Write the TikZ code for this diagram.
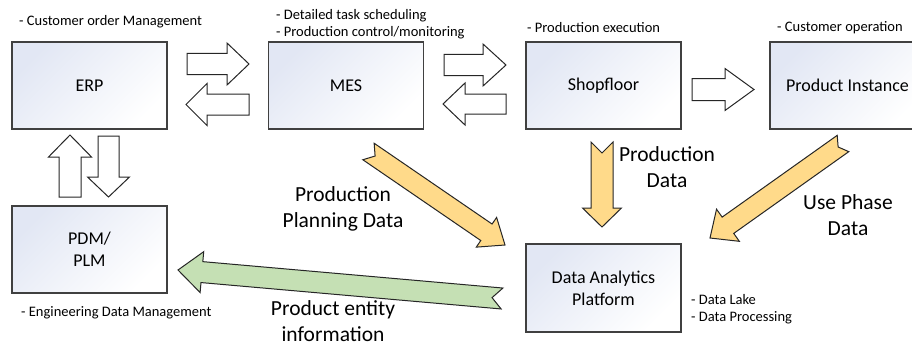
\documentclass[tikz,border=0pt]{standalone}
\usepackage{fontspec}
\setmainfont{Carlito}
\usetikzlibrary{calc}
\definecolor{boxedge}{HTML}{404040}
\definecolor{boxtint}{HTML}{E2E7F4}
\definecolor{yellowfill}{HTML}{FFDA8A}
\definecolor{greenfill}{HTML}{C5E0B4}
\tikzset{
  sysbox/.style={draw=boxedge, line width=1.1pt, minimum width=155pt, minimum height=87pt,
    inner sep=0pt, top color=boxtint, bottom color=white, shading angle=45,
    font=\fontsize{18}{22}\selectfont, align=center},
  note/.style={font=\fontsize{14.5}{17}\selectfont, align=left, anchor=west, inner sep=0pt},
  biglabel/.style={font=\fontsize{21.5}{26}\selectfont, align=center, inner sep=0pt},
  blockarr/.style={draw=black!85, line width=1pt, line join=miter, fill=white},
  yellowarr/.style={blockarr, fill=yellowfill},
  greenarr/.style={blockarr, fill=greenfill},
}
% #1 style, #2 tail, #3 tip, #4 half shaft, #5 half head, #6 head length, #7 notch depth
\newcommand\blockarrow[7][]{%
  \coordinate (#2-#3-b) at ($(#3)!#6pt!(#2)$);
  \draw[blockarr,#1]
    ($(#2)!#4pt!90:(#3)$) -- ($(#2-#3-b)!#4pt!90:(#3)$) -- ($(#2-#3-b)!#5pt!90:(#3)$)
    -- (#3) -- ($(#2-#3-b)!#5pt!-90:(#3)$) -- ($(#2-#3-b)!#4pt!-90:(#3)$)
    -- ($(#2)!#4pt!-90:(#3)$) -- ($(#2)!#7pt!(#3)$) -- cycle;}
\begin{document}
\begin{tikzpicture}[x=1pt,y=-1pt]
\fill[white] (0,0) rectangle (912,345);
\useasboundingbox (0,0) rectangle (912,345);

% boxes
\node[sysbox] (erp) at (89.5,85.5) {ERP};
\node[sysbox] (mes) at (346,85.5) {MES};
\node[sysbox] (shop) at (603.5,85.5) {Shopfloor};
\node[sysbox] (prod) at (847.5,85.5) {Product Instance};
\node[sysbox] (pdm) at (89.5,249.5) {PDM/\\PLM};
\node[sysbox, minimum height=88pt] (dap) at (603.5,288) {Data Analytics\\Platform};

% notes
\node[note] (n1) at (19,22) {- Customer order Management};
\node[note] (n2) at (276,24.5) {- Detailed task scheduling\\- Production control/monitoring};
\node[note] (n3) at (527,28) {- Production execution};
\node[note] (n4) at (777,28) {- Customer operation};
\node[note] (n5) at (21,313) {- Engineering Data Management};
\node[note] (n6) at (691,309.5) {- Data Lake\\- Data Processing};

% big labels
\node[biglabel] (l1) at (343,208.5) {Production\\Planning Data};
\node[biglabel] (l2) at (667,167.5) {Production\\Data};
\node[biglabel] (l3) at (848,215.5) {Use Phase\\Data};
\node[biglabel] (l4) at (333,321) {Product entity\\information};

% arrow end points
\coordinate (a1s) at (187,64);    \coordinate (a1e) at (249,64);
\coordinate (a2s) at (249,104.5); \coordinate (a2e) at (186,104.5);
\coordinate (a3s) at (444,65);    \coordinate (a3e) at (506,65);
\coordinate (a4s) at (506,104);   \coordinate (a4e) at (443,104);
\coordinate (a5s) at (692,89.5);  \coordinate (a5e) at (754,89.5);
\coordinate (a6s) at (70,197);    \coordinate (a6e) at (70,135);
\coordinate (a7s) at (108.5,136); \coordinate (a7e) at (108.5,197);
\coordinate (y1s) at (368.5,151.5); \coordinate (y1e) at (505,245);
\coordinate (y2s) at (602,142);   \coordinate (y2e) at (602,227);
\coordinate (y3s) at (843,143.5); \coordinate (y3e) at (710,238);
\coordinate (g1s) at (502,298.5); \coordinate (g1e) at (178,270);

\blockarrow{a1s}{a1e}{10.5}{21}{22}{0}
\blockarrow{a2s}{a2e}{10.5}{21}{21}{0}
\blockarrow{a3s}{a3e}{10.5}{21}{23}{0}
\blockarrow{a4s}{a4e}{10}{21}{22}{0}
\blockarrow{a5s}{a5e}{11}{21}{29}{0}
\blockarrow{a6s}{a6e}{11}{21.5}{22}{0}
\blockarrow{a7s}{a7e}{10.5}{21}{20}{0}
\blockarrow[yellowarr]{y1s}{y1e}{10}{18}{22.5}{8}
\blockarrow[yellowarr]{y2s}{y2e}{11}{19.5}{19}{11}
\blockarrow[yellowarr]{y3s}{y3e}{10}{19.7}{22}{6}
\blockarrow[greenarr]{g1s}{g1e}{10.5}{20.5}{24}{10}
\end{tikzpicture}
\end{document}
